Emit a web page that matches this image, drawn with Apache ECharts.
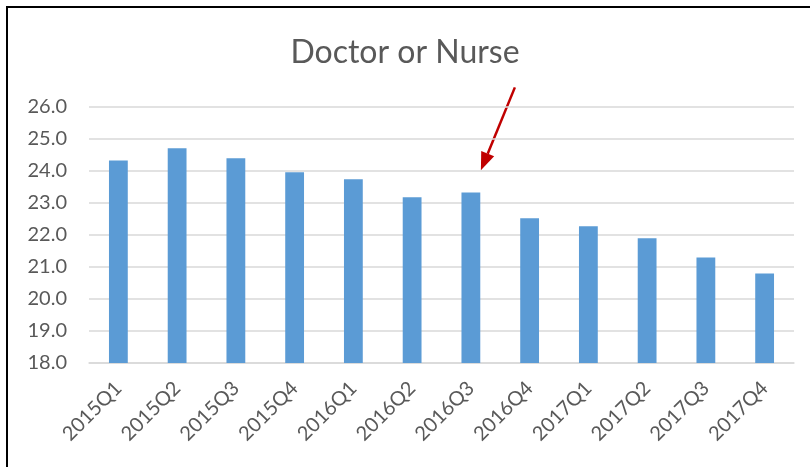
<!DOCTYPE html>
<html>
<head>
<meta charset="utf-8">
<script src="https://cdn.jsdelivr.net/npm/echarts@6/dist/echarts.min.js"></script>
<style>
  html, body { margin: 0; padding: 0; background: #fff; }
  #chart { width: 810px; height: 467px; }
</style>
</head>
<body>
<div id="chart"></div>
<script>
// data
const quarters = ['2015Q1', '2015Q2', '2015Q3', '2015Q4', '2016Q1', '2016Q2',
                  '2016Q3', '2016Q4', '2017Q1', '2017Q2', '2017Q3', '2017Q4'];
const shares = [24.33, 24.71, 24.40, 23.96, 23.74, 23.18,
                23.33, 22.52, 22.27, 21.90, 21.30, 20.80];
const arrowAt = ['2016Q3', 24.02];

const chart = echarts.init(document.getElementById('chart'));
const font = 'Lato, "Liberation Sans", sans-serif';

// frame: only left and top edges show in the crop
const frame = {
  type: 'polyline',
  shape: { points: [[7, 480], [7, 7], [815, 7]] },
  style: { fill: 'none', stroke: '#000', lineWidth: 2 },
  silent: true
};

chart.setOption({
  animation: false,
  title: {
    text: 'Doctor or Nurse',
    left: 'center',
    top: 32,
    textStyle: { fontFamily: font, fontSize: 32, fontWeight: 'normal', color: '#595959' }
  },
  grid: { left: 89, right: 16, top: 107, bottom: 104 },
  xAxis: {
    type: 'category',
    data: quarters,
    axisLine: { lineStyle: { color: '#d9d9d9', width: 1.5 } },
    axisTick: { show: false },
    axisLabel: { rotate: 45, margin: 22, fontSize: 20, color: '#595959', fontFamily: font }
  },
  yAxis: {
    type: 'value',
    min: 18, max: 26, interval: 1,
    axisLine: { show: false },
    axisTick: { show: false },
    splitLine: { lineStyle: { color: '#d9d9d9', width: 1.5 } },
    axisLabel: {
      margin: 22, fontSize: 20, color: '#595959', fontFamily: font,
      formatter: v => v.toFixed(1)
    }
  },
  series: [{
    type: 'bar',
    data: shares,
    barWidth: '32%',
    itemStyle: { color: '#5b9bd5' }
  }],
  graphic: [frame]
});

// red annotation arrow pointing at 2016Q3
const p = chart.convertToPixel({ gridIndex: 0 }, arrowAt);
const tip = [p[0] + 10, p[1]];
const tail = [tip[0] + 34, tip[1] - 83];
const ang = Math.atan2(tip[1] - tail[1], tip[0] - tail[0]);
const headLen = 18, headW = 7;
const bx = tip[0] - headLen * Math.cos(ang), by = tip[1] - headLen * Math.sin(ang);
const nx = -Math.sin(ang) * headW, ny = Math.cos(ang) * headW;
chart.setOption({
  graphic: [frame, {
    type: 'line',
    shape: { x1: tail[0], y1: tail[1], x2: bx, y2: by },
    style: { stroke: '#c00000', lineWidth: 2.5 }
  }, {
    type: 'polygon',
    shape: { points: [[tip[0], tip[1]], [bx + nx, by + ny], [bx - nx, by - ny]] },
    style: { fill: '#c00000' }
  }]
});
</script>
</body>
</html>
